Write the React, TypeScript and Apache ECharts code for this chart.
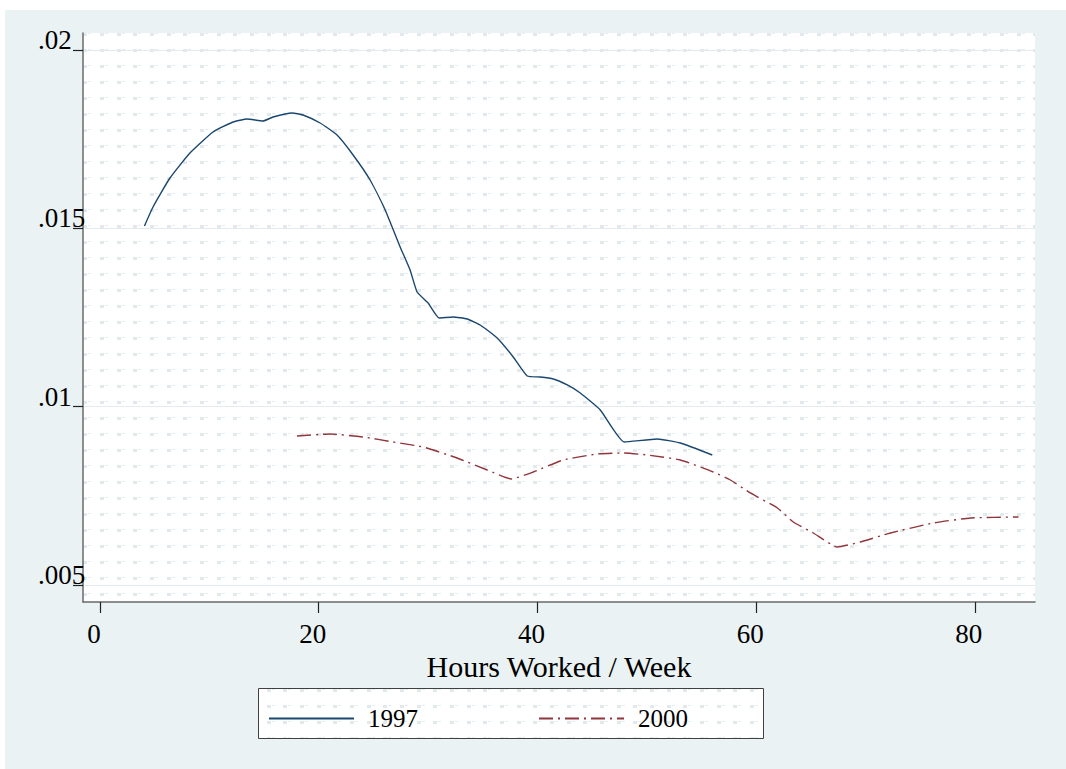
import React, { useEffect, useRef } from "react";
import * as echarts from "echarts";

// ---- data ----
const seriesNames = ["1997", "2000"];

const hours1997 = [
  4.07, 4.85, 6.4, 8.23, 10.34, 12.17, 13.45, 14.91, 15.83, 17.57, 18.57, 20.13,
  21.68, 23.15, 24.7, 26.08, 27.45, 28.36, 29.0, 30.01, 31.02, 32.3, 33.58, 34.77,
  36.32, 37.79, 39.07, 40.26, 41.45, 42.73, 43.92, 45.75, 47.94, 50.96, 53.07, 55.99,
];
const values1997 = [
  0.015066, 0.015598, 0.016411, 0.017112, 0.017701, 0.017981, 0.018065, 0.018009,
  0.018122, 0.018234, 0.018178, 0.017953, 0.017617, 0.017056, 0.016355, 0.015514,
  0.014477, 0.013832, 0.013215, 0.012907, 0.012486, 0.012514, 0.012458, 0.01229,
  0.011925, 0.011393, 0.01086, 0.010832, 0.010776, 0.010608, 0.010383, 0.009907,
  0.009009, 0.009093, 0.008981, 0.008645,
];

const hours2000 = [
  18.02, 21.04, 24.06, 26.81, 29.55, 32.66, 35.41, 37.6, 39.62, 42.36, 45.47, 47.85,
  50.05, 53.07, 56.08, 57.64, 59.47, 61.94, 63.4, 65.23, 67.43, 69.53, 72.28, 76.21,
  79.6, 83.99,
];
const values2000 = [
  0.009178, 0.009234, 0.00915, 0.00901, 0.008869, 0.008561, 0.008224, 0.007972,
  0.008168, 0.008505, 0.008673, 0.008701, 0.008645, 0.008505, 0.008168, 0.007944,
  0.00758, 0.007159, 0.006766, 0.006458, 0.006065, 0.006206, 0.006458, 0.006738,
  0.006879, 0.006907,
];

const xTicks = [0, 20, 40, 60, 80];
const yTicks = [0.005, 0.01, 0.015, 0.02];
const yTickLabels = [".005", ".01", ".015", ".02"];
const xTitle = "Hours Worked / Week";

const FONT = "'Liberation Serif', 'Times New Roman', serif";

function makePatternUrl(): string {
  const cols = [0, 17, 33];
  const rows = [0, 16, 32];
  let s = "";
  for (const cx of cols) {
    for (const cy of rows) {
      s += `<rect x='${cx}' y='${cy + 1}' width='4' height='3' fill='#e2e9ed'/>`;
      s += `<rect x='${cx + 5}' y='${cy + 1}' width='3' height='1' fill='#e6edf0'/>`;
    }
  }
  const svg = `<svg xmlns='http://www.w3.org/2000/svg' width='50' height='48'><rect width='50' height='48' fill='#ffffff'/>${s}</svg>`;
  return "data:image/svg+xml;charset=utf-8," + encodeURIComponent(svg);
}

export default function App() {
  const ref = useRef<HTMLDivElement>(null);

  useEffect(() => {
    document.body.style.margin = "0";
    const chart = echarts.init(ref.current!, null, { renderer: "svg" });
    const patternFill: any = {
      image: makePatternUrl(),
      repeat: "repeat",
      imageWidth: 50,
      imageHeight: 48,
      x: 87,
      y: 34,
    };

    const gridLeft = 83;
    const gridTop = 33;
    const gridRight = 1035;
    const gridBottom = 602;

    const option: any = {
      animation: false,
      backgroundColor: "#ffffff",
      textStyle: { fontFamily: FONT },
      graphic: [
        {
          type: "rect",
          z: -20,
          silent: true,
          shape: { x: 5, y: 10, width: 1061, height: 759 },
          style: { fill: "#eaf2f3" },
        },
        {
          type: "rect",
          z: -10,
          silent: true,
          shape: {
            x: gridLeft,
            y: gridTop,
            width: gridRight - gridLeft,
            height: gridBottom - gridTop,
          },
          style: { fill: patternFill },
        },
        {
          type: "rect",
          z: -10,
          silent: true,
          shape: { x: 258.5, y: 688.5, width: 505, height: 50 },
          style: { fill: patternFill, stroke: "#404040", lineWidth: 1 },
        },
      ],
      grid: {
        left: gridLeft,
        top: gridTop,
        right: 1066 - gridRight,
        bottom: 769 - gridBottom,
        containLabel: false,
      },
      legend: {
        data: seriesNames,
        left: 268,
        top: 706,
        padding: 0,
        itemWidth: 85,
        itemHeight: 14,
        itemGap: 120,
        itemStyle: { color: "transparent", borderColor: "transparent", borderWidth: 0, opacity: 0 },
        textStyle: {
          fontFamily: FONT,
          fontSize: 25,
          color: "#000",
          padding: [10, 0, 0, 9],
        },
      },
      xAxis: {
        type: "value",
        min: -1.55,
        max: 85.5,
        name: xTitle,
        nameLocation: "middle",
        nameGap: 42,
        nameTextStyle: {
          fontFamily: FONT,
          fontSize: 30,
          color: "#000",
          lineHeight: 30,
        },
        axisLine: { show: true, onZero: false, lineStyle: { color: "#6a6a6a", width: 1.5 } },
        axisTick: {
          show: true,
          length: 11,
          customValues: xTicks,
          lineStyle: { color: "#222", width: 1.2 },
        },
        axisLabel: {
          customValues: xTicks,
          fontFamily: FONT,
          fontSize: 27,
          lineHeight: 27,
          color: "#000",
          margin: 18,
          padding: [0, 12, 0, 0],
          formatter: (v: number) => String(v),
        },
        splitLine: { show: false },
      },
      yAxis: {
        type: "value",
        min: 0.004523,
        max: 0.020477,
        axisLine: { show: true, onZero: false, lineStyle: { color: "#6a6a6a", width: 1.5 } },
        axisTick: {
          show: true,
          length: 10,
          customValues: yTicks,
          lineStyle: { color: "#222", width: 1.2 },
        },
        axisLabel: {
          customValues: yTicks,
          fontFamily: FONT,
          fontSize: 27,
          color: "#000",
          align: "left",
          verticalAlign: "bottom",
          lineHeight: 20,
          margin: 45,
          formatter: (v: number) => {
            const i = yTicks.findIndex((t) => Math.abs(t - v) < 1e-9);
            return i >= 0 ? yTickLabels[i] : "";
          },
        },
        splitLine: {
          show: true,
          lineStyle: { color: "#e3ebee", width: 1 },
        },
      },
      series: [
        {
          name: seriesNames[0],
          type: "line",
          data: hours1997.map((h, i) => [h, values1997[i]]),
          showSymbol: false,
          symbol: "none",
          smooth: 0.15,
          lineStyle: { color: "#1a476f", width: 1.4 },
          itemStyle: { color: "#1a476f" },
        },
        {
          name: seriesNames[1],
          type: "line",
          data: hours2000.map((h, i) => [h, values2000[i]]),
          showSymbol: false,
          symbol: "none",
          smooth: 0.15,
          lineStyle: { color: "#90353b", width: 1.4, type: [14, 5, 2, 5] },
          itemStyle: { color: "#90353b" },
        },
      ],
    };

    chart.setOption(option);
    return () => {
      chart.dispose();
    };
  }, []);

  return <div ref={ref} style={{ width: 1066, height: 769 }} />;
}
